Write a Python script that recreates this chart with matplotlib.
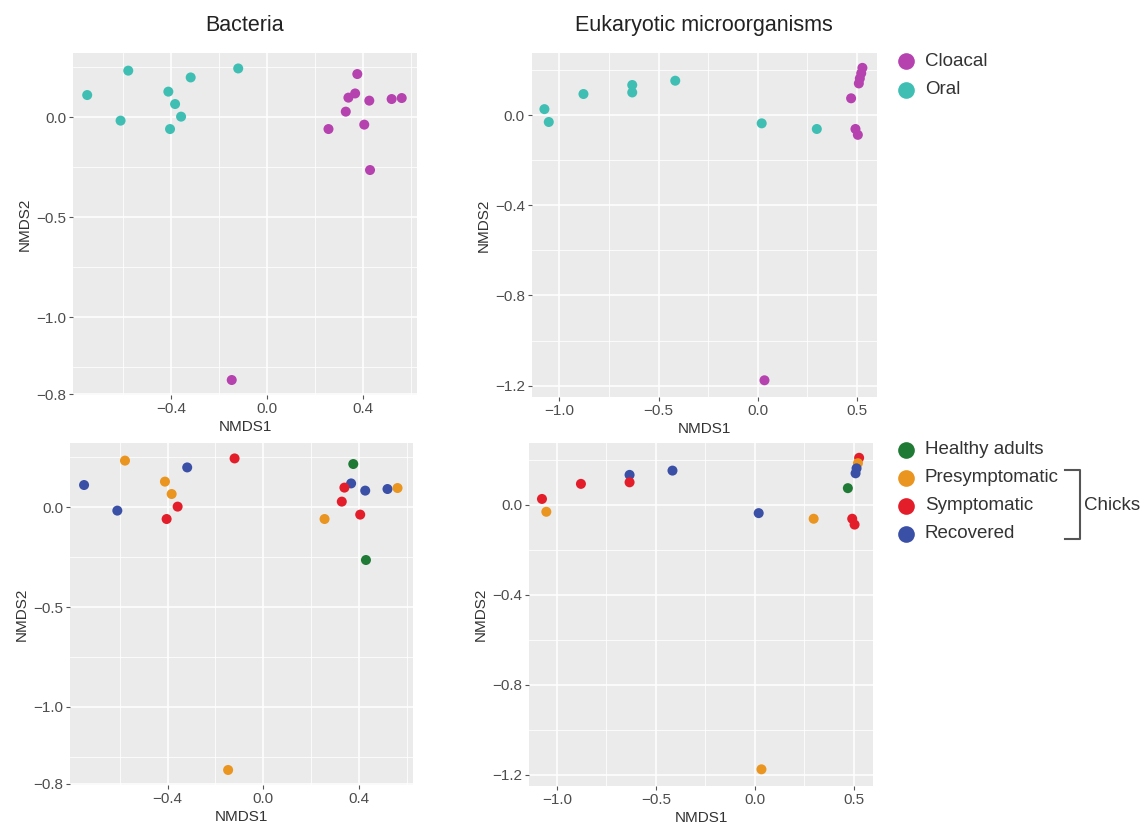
import matplotlib
matplotlib.use("Agg")
import matplotlib.pyplot as plt
from matplotlib.lines import Line2D

plt.rcParams["font.family"] = ["Liberation Sans", "DejaVu Sans"]

# NMDS ordination, bacteria (one row per sample)
BAC_NMDS1 = [-0.749, -0.578, -0.610, -0.411, -0.383, -0.358, -0.404, -0.318, -0.120,
             0.376, 0.367, 0.339, 0.426, 0.519, 0.561, 0.328, 0.256, 0.405, 0.429, -0.147]
BAC_NMDS2 = [0.110, 0.232, -0.018, 0.127, 0.065, 0.002, -0.060, 0.198, 0.243,
             0.215, 0.118, 0.097, 0.082, 0.090, 0.095, 0.027, -0.060, -0.038, -0.265, -1.315]
BAC_SITE = ["Oral"] * 9 + ["Cloacal"] * 11
BAC_STATUS = ["Recovered", "Presymptomatic", "Recovered", "Presymptomatic", "Presymptomatic",
              "Symptomatic", "Symptomatic", "Recovered", "Symptomatic",
              "Healthy adults", "Recovered", "Symptomatic", "Recovered", "Recovered",
              "Presymptomatic", "Symptomatic", "Presymptomatic", "Symptomatic",
              "Healthy adults", "Presymptomatic"]

# NMDS ordination, eukaryotic microorganisms
EUK_NMDS1 = [-1.076, -1.054, -0.879, -0.633, -0.633, -0.416, 0.020, 0.298,
             0.528, 0.522, 0.515, 0.510, 0.471, 0.493, 0.505, 0.034]
EUK_NMDS2 = [0.026, -0.031, 0.093, 0.133, 0.100, 0.152, -0.037, -0.062,
             0.209, 0.185, 0.162, 0.140, 0.074, -0.062, -0.088, -1.176]
EUK_SITE = ["Oral"] * 8 + ["Cloacal"] * 8
EUK_STATUS = ["Symptomatic", "Presymptomatic", "Symptomatic", "Recovered", "Symptomatic",
              "Recovered", "Recovered", "Presymptomatic",
              "Symptomatic", "Presymptomatic", "Recovered", "Recovered", "Healthy adults",
              "Symptomatic", "Symptomatic", "Presymptomatic"]

SITES = ["Cloacal", "Oral"]
STATUSES = ["Healthy adults", "Presymptomatic", "Symptomatic", "Recovered"]

SITE_COLORS = {"Cloacal": "#B542AF", "Oral": "#3FBFB3"}
STATUS_COLORS = {"Healthy adults": "#1F7A35", "Presymptomatic": "#EA9520",
                 "Symptomatic": "#E31E2A", "Recovered": "#3A4FA6"}

TICK_COLOR = "#4D4D4D"


def style_axes(ax, xticks, yticks, ylabels, xminor, yminor, xlim, ylim):
    ax.set_facecolor("#EBEBEB")
    for s in ax.spines.values():
        s.set_visible(False)
    ax.set_xlim(*xlim)
    ax.set_ylim(*ylim)
    ax.set_xticks(xticks)
    ax.set_xticklabels([f"{t:.1f}".replace("-", "\u2212") for t in xticks])
    ax.set_yticks(yticks)
    ax.set_yticklabels(ylabels)
    ax.set_xticks(xminor, minor=True)
    ax.set_yticks(yminor, minor=True)
    ax.grid(which="major", color="white", lw=1.1)
    ax.grid(which="minor", color="white", lw=0.55)
    ax.set_axisbelow(True)
    ax.tick_params(which="major", length=3, width=0.8, color="#555555",
                   labelcolor=TICK_COLOR, labelsize=11, pad=2)
    ax.tick_params(which="minor", length=0)
    ax.set_xlabel("NMDS1", fontsize=11, color="#333333", labelpad=3)
    ax.set_ylabel("NMDS2", fontsize=11, color="#333333", labelpad=3)


def draw_panel(ax, x, y, colors, kind):
    ax.scatter(x, y, c=colors, s=52, linewidths=0, zorder=3)
    if kind == "bac":
        style_axes(ax, [-0.4, 0.0, 0.4], [0.0, -0.5, -1.0, -1.385],
                   ["0.0", "\u22120.5", "\u22121.0", "\u22120.8"],
                   [-0.6, -0.2, 0.2, 0.6], [0.25, -0.25, -0.75, -1.25],
                   (-0.808, 0.625), (-1.39, 0.32))
    else:
        style_axes(ax, [-1.0, -0.5, 0.0, 0.5], [0.0, -0.4, -0.8, -1.2],
                   ["0.0", "\u22120.4", "\u22120.8", "\u22121.2"],
                   [-0.75, -0.25, 0.25], [0.2, -0.2, -0.6, -1.0],
                   (-1.14, 0.60), (-1.25, 0.275))


def draw_legends(fig):
    lax = fig.add_axes([0, 0, 1, 1])
    lax.set_xlim(0, 1143)
    lax.set_ylim(825, 0)
    lax.axis("off")
    lax.patch.set_alpha(0)
    for i, site in enumerate(SITES):
        yy = 61 + i * 29
        lax.plot(906, yy, "o", ms=12, color=SITE_COLORS[site], mec="none")
        lax.text(925, yy, site, fontsize=13.5, color="#333333", va="center")
    for i, st in enumerate(STATUSES):
        yy = 450 + i * 28
        lax.plot(906, yy, "o", ms=12, color=STATUS_COLORS[st], mec="none")
        lax.text(925, yy, st, fontsize=13.5, color="#333333", va="center")
    lax.add_line(Line2D([1065, 1080, 1080, 1065], [470, 470, 539, 539],
                        color="#555555", lw=1.5))
    lax.text(1084, 506, "Chicks", fontsize=13.5, color="#333333", va="center")


def main():
    fig = plt.figure(figsize=(11.43, 8.25), dpi=100)
    ax1 = fig.add_axes([0.0639, 0.5212, 0.301, 0.4145])
    ax2 = fig.add_axes([0.4652, 0.5188, 0.3018, 0.417])
    ax3 = fig.add_axes([0.0612, 0.0485, 0.300, 0.4145])
    ax4 = fig.add_axes([0.4631, 0.0473, 0.301, 0.4158])

    draw_panel(ax1, BAC_NMDS1, BAC_NMDS2, [SITE_COLORS[s] for s in BAC_SITE], "bac")
    draw_panel(ax2, EUK_NMDS1, EUK_NMDS2, [SITE_COLORS[s] for s in EUK_SITE], "euk")
    draw_panel(ax3, BAC_NMDS1, BAC_NMDS2, [STATUS_COLORS[s] for s in BAC_STATUS], "bac")
    draw_panel(ax4, EUK_NMDS1, EUK_NMDS2, [STATUS_COLORS[s] for s in EUK_STATUS], "euk")

    ax1.set_title("Bacteria", fontsize=15.5, color="#222222", pad=16)
    ax2.set_title("Eukaryotic microorganisms", fontsize=15.5, color="#222222", pad=16)

    draw_legends(fig)
    fig.savefig("out.png", dpi=100)


if __name__ == "__main__":
    main()
